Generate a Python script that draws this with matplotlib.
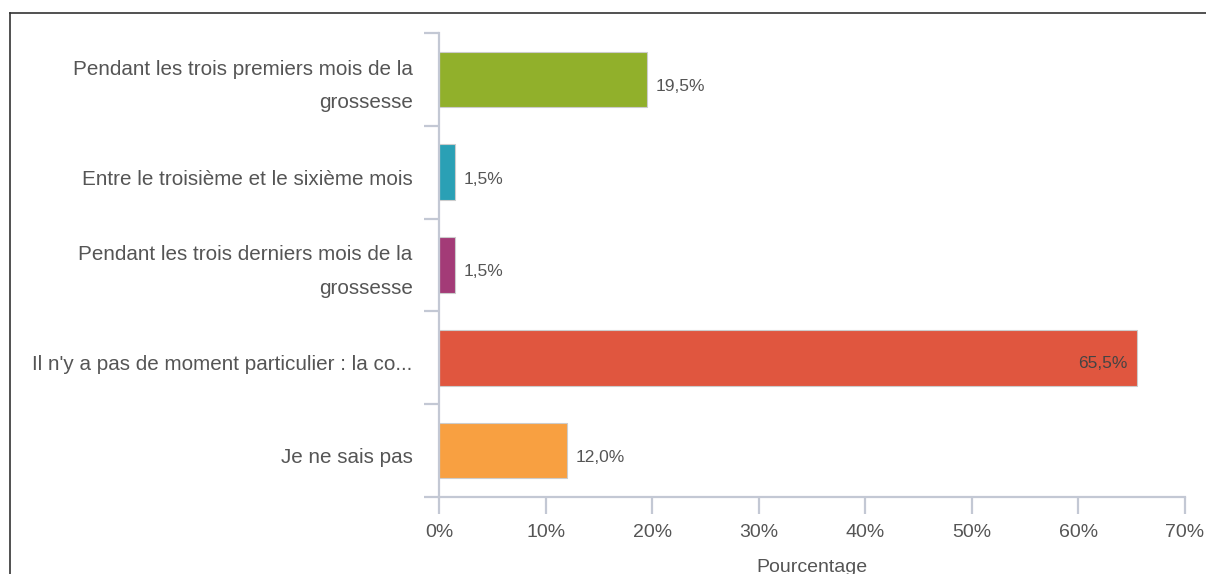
import numpy as np
import matplotlib
matplotlib.use('Agg')
import matplotlib.pyplot as plt
import matplotlib.transforms as mtransforms
from matplotlib.lines import Line2D

# data
aCategory = ['Pendant les trois premiers mois de la\ngrossesse',
             'Entre le troisième et le sixième mois',
             'Pendant les trois derniers mois de la\ngrossesse',
             "Il n'y a pas de moment particulier : la co...",
             'Je ne sais pas']
aValue = [19.5, 1.5, 1.5, 65.5, 12.0]
aLabel = ['19,5%', '1,5%', '1,5%', '65,5%', '12,0%']
aColor = ['#91b02b', '#2aa0b5', '#a33b77', '#e0563f', '#f8a041']
aXtick = [0, 10, 20, 30, 40, 50, 60, 70]
aXtick_label = ['0%', '10%', '20%', '30%', '40%', '50%', '60%', '70%']

plt.rcParams['font.family'] = ['Liberation Sans', 'DejaVu Sans']
sText_color = '#555555'
sAxis_color = '#c3c8d4'

fig = plt.figure(figsize=(12.06, 5.74), dpi=100)
ax = fig.add_axes([439/1206, 1 - 497/574, (1185 - 439)/1206, (497 - 33)/574])

aY = np.arange(len(aCategory))
ax.barh(aY, aValue, height=0.6, color=aColor, edgecolor='#cccccc', linewidth=0.8, zorder=2)

ax.set_xlim(0, 70)
ax.set_ylim(len(aCategory) - 0.5, -0.5)

# value labels
for i in range(len(aValue)):
    if aValue[i] > 50:
        ax.annotate(aLabel[i], (aValue[i], aY[i]), xytext=(-7, -4), textcoords='offset points',
                    ha='right', va='center', fontsize=12.5, color='#444444')
    else:
        ax.annotate(aLabel[i], (aValue[i], aY[i]), xytext=(6.5, -5), textcoords='offset points',
                    ha='left', va='center', fontsize=12.5, color=sText_color)

# spines
for sKey in ['top', 'right']:
    ax.spines[sKey].set_visible(False)
for sKey in ['left', 'bottom']:
    ax.spines[sKey].set_color(sAxis_color)
    ax.spines[sKey].set_linewidth(1.6)
    ax.spines[sKey].set_zorder(3)

# y: ticks at the band boundaries, labels in the middle
ax.set_yticks(np.arange(-0.5, len(aCategory), 1.0))
ax.set_yticklabels([])
ax.set_yticks(aY, minor=True)
ax.set_yticklabels(aCategory, minor=True, fontsize=14.9, color=sText_color, linespacing=1.95)
ax.tick_params(axis='y', which='major', length=11, width=1.6, color=sAxis_color)
ax.tick_params(axis='y', which='minor', length=0, pad=19)
for pLabel in ax.get_yticklabels(minor=True):
    if '\n' in pLabel.get_text():
        dShift = 2.5
    else:
        dShift = -5
    offset = mtransforms.ScaledTranslation(0, dShift/100, fig.dpi_scale_trans)
    pLabel.set_transform(pLabel.get_transform() + offset)

# x axis
ax.set_xticks(aXtick)
ax.set_xticklabels(aXtick_label, fontsize=14, color=sText_color)
ax.tick_params(axis='x', which='major', length=12.5, width=1.6, color=sAxis_color, pad=7)
ax.set_xlabel('Pourcentage', fontsize=14, color=sText_color, labelpad=13)

# black frame around the chart area
fig.add_artist(Line2D([10/1206, 10/1206], [0, 1 - 13/574], color='#333333', linewidth=1.2,
                      transform=fig.transFigure))
fig.add_artist(Line2D([10/1206, 1], [1 - 13/574, 1 - 13/574], color='#333333', linewidth=1.2,
                      transform=fig.transFigure))

plt.savefig('out.png', dpi=100)
plt.close(fig)
